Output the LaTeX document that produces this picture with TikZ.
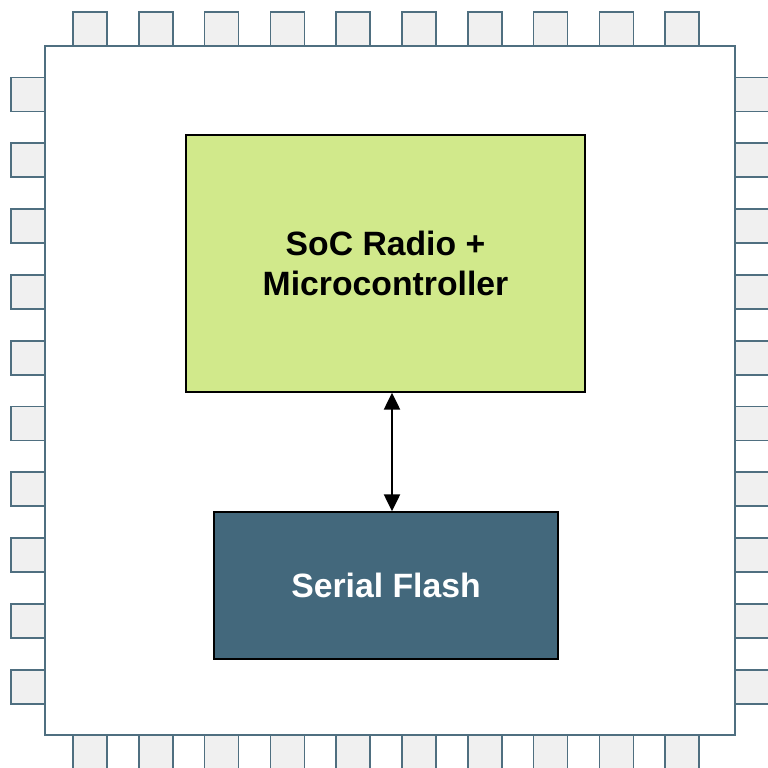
\documentclass[tikz,border=0pt]{standalone}
\usepackage{fontspec}
\setmainfont{Liberation Sans}
\usepackage{tikz}
\usetikzlibrary{calc,arrows.meta}
\definecolor{pinedge}{HTML}{4F6F80}
\definecolor{pinfill}{HTML}{F0F0F0}
\definecolor{socgreen}{HTML}{D1E98B}
\definecolor{flashblue}{HTML}{43687C}
\tikzset{
  pinbox/.style={draw=pinedge, fill=pinfill, line width=1pt},
  block/.style={draw=black, line width=0.8pt, align=center, inner sep=0pt,
    font=\fontsize{19.2}{23}\selectfont\bfseries}
}

\begin{document}
\begin{tikzpicture}[x=0.02cm, y=-0.02cm]
    \useasboundingbox (0,0) rectangle (768,768);
    % pins
    \foreach \i in {0,...,9} {
      \pgfmathsetmacro{\p}{73+65.8*\i}
      \draw[pinbox] (\p,12) rectangle ++(34,34);
      \draw[pinbox] (\p,735) rectangle ++(34,34);
      \draw[pinbox] (11,\p+4.5) rectangle ++(34,34);
      \draw[pinbox] (735,\p+4.5) rectangle ++(34,34);
    }
    \draw[pinbox, fill=white] (45,46) rectangle (735,735);
    \node[block, fill=socgreen, minimum width=7.98cm, minimum height=5.14cm]
      (soc) at (385.5,263.5) {SoC Radio +\\Microcontroller};
    \node[block, fill=flashblue, text=white, minimum width=6.88cm, minimum height=2.94cm]
      (flash) at (386,585.5) {Serial Flash};
    \coordinate (bus) at (392,0);
    \draw[{Triangle[length=0.34cm,width=0.32cm]}-{Triangle[length=0.34cm,width=0.32cm]}, line width=1.3pt]
      (soc.south -| bus) -- (flash.north -| bus);
\end{tikzpicture}
\end{document}
